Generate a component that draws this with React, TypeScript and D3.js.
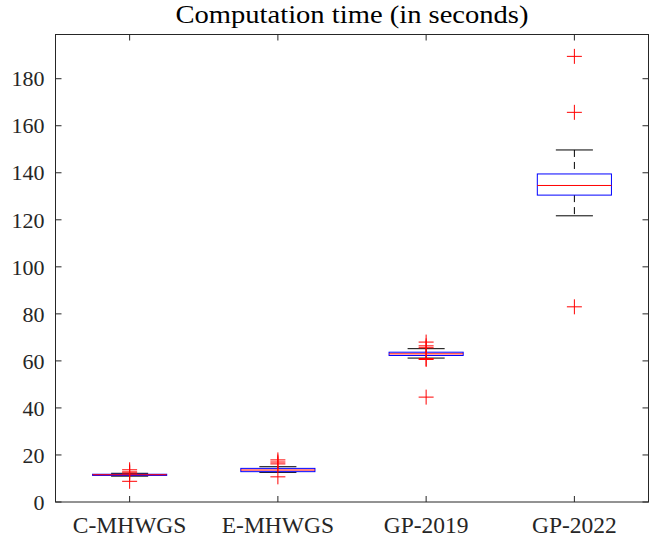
import React from "react";
import * as d3 from "d3";

const categories = ["C-MHWGS", "E-MHWGS", "GP-2019", "GP-2022"];
// [lowerWhisker, q1, median, q3, upperWhisker]
const boxStats = [
  [11.0, 11.3, 11.6, 11.8, 12.2],
  [12.6, 12.9, 13.6, 14.3, 15.0],
  [61.2, 62.3, 63.0, 63.7, 65.2],
  [121.7, 130.5, 134.6, 139.5, 149.7],
];
const outliers = [
  [13.7, 12.8, 12.3, 8.8],
  [17.9, 17.0, 16.2, 10.7],
  [68.0, 66.4, 65.6, 61.0, 60.6, 44.6],
  [189.5, 165.7, 83.0],
];
const yTicks = [0, 20, 40, 60, 80, 100, 120, 140, 160, 180];
const title = "Computation time (in seconds)";

const W = 656;
const H = 537;
const left = 55.5;
const right = 648.5;
const top = 34.5;
const bottom = 502;
const font = "'Liberation Serif', 'Times New Roman', serif";
const axisColor = "#262626";

export default function App() {
  const x = d3.scaleLinear().domain([0.5, 4.5]).range([left, right]);
  const y = d3.scaleLinear().domain([0, 198.8]).range([bottom, top]);
  const unit = x(1) - x(0);
  const boxW = unit * 0.5;
  const capW = unit * 0.25;
  const tickLen = 6;
  const cross = 7.5;

  return (
    <svg
      width={W}
      height={H}
      style={{ position: "absolute", left: 0, top: 0, background: "#fff" }}
    >
      <text
        x={(left + right) / 2}
        y={23}
        textAnchor="middle"
        fontFamily={font}
        fontSize={25}
        textLength={353}
        lengthAdjust="spacingAndGlyphs"
        fill="#000"
      >
        {title}
      </text>

      {/* boxes */}
      {boxStats.map((s, i) => {
        const cx = x(i + 1);
        const [lw, q1, med, q3, uw] = s;
        return (
          <g key={categories[i]}>
            <line x1={cx} x2={cx} y1={y(uw)} y2={y(q3)} stroke="#000" strokeWidth={1} strokeDasharray="7,5" />
            <line x1={cx} x2={cx} y1={y(q1)} y2={y(lw)} stroke="#000" strokeWidth={1} strokeDasharray="7,5" />
            <line x1={cx - capW / 2} x2={cx + capW / 2} y1={y(uw)} y2={y(uw)} stroke="#000" strokeWidth={1} />
            <line x1={cx - capW / 2} x2={cx + capW / 2} y1={y(lw)} y2={y(lw)} stroke="#000" strokeWidth={1} />
            <rect
              x={cx - boxW / 2}
              y={y(q3)}
              width={boxW}
              height={Math.max(0.5, y(q1) - y(q3))}
              fill="none"
              stroke="#0000ff"
              strokeWidth={1}
            />
            <line x1={cx - boxW / 2} x2={cx + boxW / 2} y1={y(med)} y2={y(med)} stroke="#ff0000" strokeWidth={1} />
            {outliers[i].map((v, j) => (
              <g key={j} stroke="#ff0000" strokeWidth={1}>
                <line x1={cx - cross} x2={cx + cross} y1={y(v)} y2={y(v)} />
                <line x1={cx} x2={cx} y1={y(v) - cross} y2={y(v) + cross} />
              </g>
            ))}
          </g>
        );
      })}

      {/* axes frame */}
      <rect x={left} y={top} width={right - left} height={bottom - top} fill="none" stroke={axisColor} strokeWidth={1} />

      {yTicks.map((t) => (
        <g key={t}>
          <line x1={left} x2={left + tickLen} y1={y(t)} y2={y(t)} stroke={axisColor} />
          <line x1={right} x2={right - tickLen} y1={y(t)} y2={y(t)} stroke={axisColor} />
          <text
            x={left - 11}
            y={y(t)}
            dy="0.35em"
            textAnchor="end"
            fontFamily={font}
            fontSize={22}
            fill={axisColor}
          >
            {t}
          </text>
        </g>
      ))}

      {categories.map((c, i) => (
        <g key={c}>
          <line x1={x(i + 1)} x2={x(i + 1)} y1={bottom} y2={bottom - tickLen} stroke={axisColor} />
          <line x1={x(i + 1)} x2={x(i + 1)} y1={top} y2={top + tickLen} stroke={axisColor} />
          <text
            x={x(i + 1)}
            y={533}
            textAnchor="middle"
            fontFamily={font}
            fontSize={23.5}
            fill={axisColor}
          >
            {c}
          </text>
        </g>
      ))}
    </svg>
  );
}
